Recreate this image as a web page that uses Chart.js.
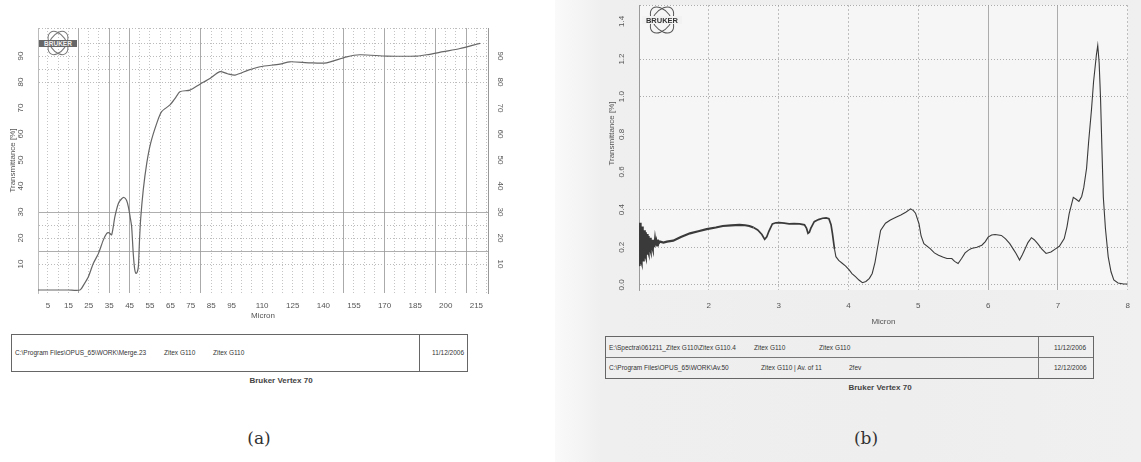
<!DOCTYPE html>
<html>
<head>
<meta charset="utf-8">
<script src="https://cdn.jsdelivr.net/npm/chart.js@4.4.1/dist/chart.umd.min.js"></script>
<style>
  body { margin:0; width:1141px; height:462px; position:relative; overflow:hidden; background:#fff; font-family:"Liberation Sans", Arial, sans-serif; }
  .abs { position:absolute; }
  .box { position:absolute; border:1px solid #666; color:#333; font-size:6.5px; }
  .box span { position:absolute; white-space:nowrap; }
  .cap { position:absolute; font-size:8px; font-weight:bold; color:#444; white-space:nowrap; transform:translateX(-50%); }
  .lbl { position:absolute; font-family:"DejaVu Serif", "Liberation Serif", serif; font-size:17px; color:#333; transform:translateX(-50%); }
</style>
</head>
<body>
<div class="abs" style="left:555px;top:0;width:586px;height:462px;background:linear-gradient(90deg,#fafafa,#efefef 8%,#eeeeee 60%,#f0f0f0)"></div>

<div class="abs" style="left:0;top:0;width:530px;height:330px"><canvas id="chartA"></canvas></div>
<div class="abs" style="left:590px;top:0;width:551px;height:330px"><canvas id="chartB"></canvas></div>

<svg class="abs" style="left:38px;top:29px" width="40" height="28" viewBox="0 0 40 28">
  <ellipse cx="20" cy="14" rx="8" ry="13" transform="rotate(35 20 14)" fill="none" stroke="#777" stroke-width="1"/>
  <ellipse cx="20" cy="14" rx="8" ry="13" transform="rotate(-35 20 14)" fill="none" stroke="#777" stroke-width="1"/>
  <rect x="1" y="11" width="38" height="7" fill="#666"/>
  <text x="20" y="17" font-size="6.5" font-weight="bold" fill="#eee" text-anchor="middle" font-family="Liberation Sans, Arial">BRUKER</text>
</svg>
<svg class="abs" style="left:641px;top:4px" width="42" height="32" viewBox="0 0 42 32">
  <ellipse cx="21" cy="16" rx="9" ry="15" transform="rotate(38 21 16)" fill="none" stroke="#555" stroke-width="1"/>
  <ellipse cx="21" cy="16" rx="9" ry="15" transform="rotate(-38 21 16)" fill="none" stroke="#555" stroke-width="1"/>
  <rect x="1" y="12" width="40" height="8" fill="#f2f2f2"/>
  <text x="21" y="19" font-size="7.5" font-weight="bold" fill="#333" text-anchor="middle" font-family="Liberation Sans, Arial">BRUKER</text>
</svg>

<div class="box" style="left:11px;top:334px;width:455px;height:36px">
  <span style="left:3px;top:14px">C:\Program Files\OPUS_65\WORK\Merge.23</span>
  <span style="left:152px;top:14px">Zitex G110</span>
  <span style="left:201px;top:14px">Zitex G110</span>
  <div class="abs" style="left:407px;top:0;width:1px;height:36px;background:#666"></div>
  <span style="left:420px;top:14px">11/12/2006</span>
</div>
<div class="cap" style="left:281px;top:376px">Bruker Vertex 70</div>
<div class="lbl" style="left:259px;top:428px">(a)</div>

<div class="box" style="left:605px;top:336px;width:487px;height:41px">
  <span style="left:3px;top:7px">E:\Spectra\061211_Zitex G110\Zitex G110.4</span>
  <span style="left:148px;top:7px">Zitex G110</span>
  <span style="left:213px;top:7px">Zitex G110</span>
  <span style="left:3px;top:27px">C:\Program Files\OPUS_65\WORK\Av.50</span>
  <span style="left:155px;top:27px">Zitex G110 | Av. of 11</span>
  <span style="left:243px;top:27px">2fev</span>
  <div class="abs" style="left:0;top:20px;width:487px;height:1px;background:#777"></div>
  <div class="abs" style="left:432px;top:0;width:1px;height:41px;background:#777"></div>
  <span style="left:448px;top:7px">11/12/2006</span>
  <span style="left:448px;top:27px">12/12/2006</span>
</div>
<div class="cap" style="left:880px;top:383px">Bruker Vertex 70</div>
<div class="lbl" style="left:866px;top:428px">(b)</div>

<script>
// panel (a): far-infrared transmittance, microns vs %
const aMicron = [0.1, 5, 10, 15, 20.7, 22.5, 24.8, 27.2, 29.7, 32.1, 33.8, 35, 36.2, 37.8, 39.5, 41, 42.3, 43.5, 44.4, 45.3, 46, 46.8, 47.5, 48.1, 48.7, 49.3, 49.8, 50.4, 51.7, 53.4, 55.3, 58.3, 60.7, 64.8, 67.3, 69.7, 74.6, 79.5, 84.4, 89.3, 93, 96.7, 103.2, 109, 118.7, 123.6, 133.4, 141.6, 151.4, 157.9, 171, 185.7, 190.6, 198.8, 207, 213.5, 216.8];
const aTrans  = [0, 0, 0, 0, 0, 2, 5.1, 10.2, 14, 19.2, 21.8, 22, 21.2, 28.2, 33.3, 35, 35.6, 34.5, 32, 28, 24.4, 14, 8, 6.4, 6.8, 9, 18, 27, 38.5, 48.7, 56.4, 64.1, 68.6, 71.2, 73.7, 76.3, 76.9, 79.2, 81.4, 84, 83.2, 82.7, 84.6, 85.9, 86.9, 87.8, 87.4, 87.4, 89.7, 90.5, 90, 90, 90.5, 91.7, 92.9, 94.2, 94.9];
const aXLabels = [5, 15, 25, 35, 45, 55, 65, 75, 85, 95, 110, 125, 140, 155, 170, 185, 200, 215];
const aYLabels = [10, 20, 30, 40, 50, 60, 70, 80, 90];
const aYGrid = [10, 15, 20, 25, 30, 80, 85, 90, 95, 100.8];

// panel (b): mid-infrared transmittance, microns vs %
const bMicron = [1.00, 1.005, 1.01, 1.015, 1.02, 1.025, 1.03, 1.035, 1.04, 1.045, 1.05, 1.055, 1.06, 1.065, 1.07, 1.075, 1.08, 1.085, 1.09, 1.095, 1.10, 1.105, 1.11, 1.115, 1.12, 1.125, 1.13, 1.135, 1.14, 1.145, 1.15, 1.155, 1.16, 1.165, 1.17, 1.175, 1.18, 1.185, 1.19, 1.195, 1.20, 1.21, 1.22, 1.23, 1.24, 1.25, 1.26, 1.27, 1.28, 1.30,
  1.35, 1.40, 1.49, 1.6, 1.73, 1.85, 1.97, 2.1, 2.2, 2.32, 2.44, 2.52, 2.58, 2.64, 2.70, 2.76, 2.80, 2.83, 2.86, 2.91, 2.96, 3.01, 3.08, 3.15, 3.22, 3.30, 3.37, 3.40, 3.42, 3.44, 3.46, 3.51, 3.57, 3.63, 3.68, 3.72, 3.75, 3.77, 3.80, 3.82, 3.86, 3.91, 3.96, 4.01, 4.05, 4.10, 4.15, 4.20, 4.25, 4.30, 4.34, 4.38, 4.41, 4.46, 4.53, 4.60, 4.68, 4.75, 4.82, 4.89, 4.93, 4.96, 5.01, 5.04, 5.08, 5.17, 5.23, 5.29, 5.35, 5.41, 5.48, 5.52, 5.57, 5.62, 5.67, 5.72, 5.76, 5.84, 5.91, 5.96, 6.0, 6.05, 6.1, 6.19, 6.25, 6.31, 6.36, 6.4, 6.45, 6.49, 6.52, 6.57, 6.62, 6.66, 6.71, 6.77, 6.83, 6.9, 6.96, 7.02, 7.09, 7.13, 7.16, 7.22, 7.26, 7.3, 7.34, 7.37, 7.41, 7.44, 7.48, 7.51, 7.55, 7.57, 7.59, 7.61, 7.63, 7.65, 7.68, 7.72, 7.76, 7.8, 7.86, 7.94, 8.0];
const bTrans = [0.12, 0.31, 0.10, 0.33, 0.11, 0.32, 0.13, 0.30, 0.12, 0.31, 0.14, 0.30, 0.13, 0.29, 0.15, 0.29, 0.14, 0.28, 0.16, 0.28, 0.15, 0.27, 0.17, 0.27, 0.16, 0.26, 0.18, 0.26, 0.17, 0.25, 0.18, 0.25, 0.19, 0.25, 0.18, 0.24, 0.19, 0.24, 0.20, 0.24, 0.19, 0.24, 0.20, 0.24, 0.21, 0.23, 0.21, 0.24, 0.22, 0.23,
  0.225, 0.23, 0.235, 0.255, 0.274, 0.285, 0.296, 0.305, 0.313, 0.316, 0.319, 0.317, 0.313, 0.305, 0.292, 0.268, 0.242, 0.255, 0.285, 0.324, 0.33, 0.331, 0.328, 0.324, 0.326, 0.324, 0.319, 0.300, 0.274, 0.28, 0.30, 0.336, 0.347, 0.354, 0.356, 0.352, 0.32, 0.274, 0.19, 0.150, 0.13, 0.115, 0.10, 0.08, 0.06, 0.044, 0.026, 0.012, 0.018, 0.035, 0.061, 0.12, 0.184, 0.289, 0.328, 0.345, 0.36, 0.372, 0.386, 0.404, 0.395, 0.381, 0.325, 0.26, 0.219, 0.193, 0.17, 0.158, 0.148, 0.14, 0.14, 0.125, 0.114, 0.14, 0.17, 0.185, 0.193, 0.2, 0.211, 0.23, 0.254, 0.265, 0.268, 0.263, 0.245, 0.219, 0.19, 0.167, 0.132, 0.16, 0.184, 0.225, 0.251, 0.24, 0.219, 0.19, 0.167, 0.175, 0.19, 0.205, 0.246, 0.31, 0.377, 0.465, 0.455, 0.444, 0.47, 0.518, 0.62, 0.763, 0.93, 1.079, 1.22, 1.272, 1.18, 0.991, 0.72, 0.465, 0.3, 0.149, 0.07, 0.026, 0.01, 0.005, 0.005];
const bXLabels = [2, 3, 4, 5, 6, 7, 8];
const bYLabels = [0.0, 0.2, 0.4, 0.6, 0.8, 1.0, 1.2, 1.4];
const bYGrid = [0.0, 0.2, 0.4, 1.0, 1.2, 1.487];

const tickFont = { family: "Liberation Sans, Arial, sans-serif", size: 8 };

// y tick labels on these spectra are printed sideways
const sideLabels = {
  id: "sideLabels",
  afterDraw(chart, args, opts) {
    const ctx = chart.ctx, area = chart.chartArea, scale = chart.scales.y;
    ctx.save();
    ctx.font = "8px Liberation Sans, Arial, sans-serif";
    ctx.fillStyle = "#555";
    ctx.textAlign = "center";
    ctx.textBaseline = "middle";
    opts.labels.forEach(v => {
      const y = scale.getPixelForValue(v);
      const txt = v.toFixed(opts.decimals);
      ctx.save();
      ctx.translate(area.left - opts.gap, y);
      ctx.rotate(-Math.PI / 2);
      ctx.fillText(txt, 0, 0);
      ctx.restore();
      if (opts.right) {
        ctx.save();
        ctx.translate(area.right + opts.right, y);
        ctx.rotate(Math.PI / 2);
        ctx.fillText(txt, 0, 0);
        ctx.restore();
      }
    });
    if (opts.title) {
      ctx.save();
      ctx.translate(area.left - opts.titleGap, (area.top + area.bottom) / 2 - opts.titleShift);
      ctx.rotate(-Math.PI / 2);
      ctx.fillText(opts.title, 0, 0);
      ctx.restore();
    }
    ctx.restore();
  }
};

const areaFill = {
  id: "areaFill",
  beforeDraw(chart, args, opts) {
    if (!opts.color) return;
    const a = chart.chartArea;
    chart.ctx.save();
    chart.ctx.fillStyle = opts.color;
    chart.ctx.fillRect(a.left, a.top, a.right - a.left, a.bottom - a.top);
    chart.ctx.restore();
  }
};

function everyStep(min, max, step) {
  const out = [];
  for (let v = min; v <= max + 1e-9; v += step) out.push({ value: +v.toFixed(3) });
  return out;
}

const aSolidX = [20, 35, 45, 80, 150, 170, 195, 210];

new Chart(document.getElementById("chartA"), {
  type: "line",
  data: {
    datasets: [{
      data: aMicron.map((x, i) => ({ x, y: aTrans[i] })),
      borderColor: "#666",
      borderWidth: 1.2,
      pointRadius: 0,
      tension: 0.25
    }]
  },
  options: {
    responsive: true,
    maintainAspectRatio: false,
    animation: false,
    layout: { padding: { top: 28, left: 0, right: 0, bottom: 0 } },
    plugins: {
      legend: { display: false },
      tooltip: { enabled: false },
      sideLabels: { labels: aYLabels, decimals: 0, gap: 17, right: 12 }
    },
    scales: {
      x: {
        type: "linear", min: 0.1, max: 220.7,
        afterBuildTicks: s => { s.ticks = everyStep(5, 220, 5); },
        afterFit: s => { s.height = 37; },
        grid: {
          drawTicks: false,
          color: c => aSolidX.includes(c.tick && c.tick.value) ? "#aaa" : "#b5b5b5",
          lineWidth: c => aSolidX.includes(c.tick && c.tick.value) ? 1 : 0.8
        },
        border: { display: false, dash: c => aSolidX.includes(c.tick && c.tick.value) ? [] : [1, 2] },
        ticks: {
          autoSkip: false, maxRotation: 0, padding: 8, color: "#555", font: tickFont,
          callback: v => aXLabels.includes(v) ? String(v) : ""
        },
        title: { display: true, text: "Micron", color: "#555", font: tickFont, padding: { top: 0, bottom: 9 } }
      },
      y: {
        min: -1.15, max: 100.8,
        afterBuildTicks: s => { s.ticks = aYGrid.map(v => ({ value: v })); },
        afterFit: s => { s.width = 38; },
        grid: {
          drawTicks: false,
          color: c => [30, 15].includes(c.tick && c.tick.value) ? "#999" : "#aaa",
          lineWidth: 0.8
        },
        border: { display: true, color: "#bbb", dash: c => [30, 15].includes(c.tick && c.tick.value) ? [] : [1, 2] },
        ticks: { display: false },
        title: { display: true, text: "Transmittance [%]", color: "#555", font: tickFont, padding: { top: 8, bottom: 0 } }
      },
      yr: {
        position: "right", min: -1.15, max: 100.8,
        afterFit: s => { s.width = 42; },
        grid: { drawOnChartArea: false, drawTicks: false },
        border: { display: true, color: "#999" },
        ticks: { display: false }
      }
    }
  },
  plugins: [sideLabels]
});

const bSolidX = [6, 7];

new Chart(document.getElementById("chartB"), {
  type: "line",
  data: {
    datasets: [{
      data: bMicron.map((x, i) => ({ x, y: bTrans[i] })),
      borderColor: "#3a3a3a",
      borderWidth: 1.1,
      pointRadius: 0,
      tension: 0,
      segment: {
        // the detector noise makes the short-wave part print thicker
        borderWidth: c => c.p0.parsed.x < 2.6 ? 2.2 : (c.p0.parsed.x < 3.8 ? 1.7 : 1.1)
      }
    }]
  },
  options: {
    responsive: true,
    maintainAspectRatio: false,
    animation: false,
    layout: { padding: { top: 5, left: 0, right: 12, bottom: 0 } },
    plugins: {
      legend: { display: false },
      tooltip: { enabled: false },
      areaFill: { color: "#f6f6f6" },
      sideLabels: { labels: bYLabels, decimals: 1, gap: 17, right: 0, title: "Transmittance [%]", titleGap: 27, titleShift: 14 }
    },
    scales: {
      x: {
        type: "linear", min: 1, max: 8,
        afterBuildTicks: s => { s.ticks = everyStep(1, 8, 1); },
        afterFit: s => { s.height = 40; },
        grid: {
          drawTicks: false,
          color: c => bSolidX.includes(c.tick && c.tick.value) ? "#999" : "#b0b0b0",
          lineWidth: 0.8
        },
        border: { display: false, dash: c => bSolidX.includes(c.tick && c.tick.value) ? [] : [2, 2] },
        ticks: {
          autoSkip: false, maxRotation: 0, padding: 11, color: "#555", font: tickFont,
          callback: v => bXLabels.includes(v) ? String(v) : ""
        },
        title: { display: true, text: "Micron", color: "#555", font: tickFont, padding: { top: 0, bottom: 3 } }
      },
      y: {
        min: -0.027, max: 1.487,
        afterBuildTicks: s => { s.ticks = bYGrid.map(v => ({ value: v })); },
        afterFit: s => { s.width = 49; },
        grid: { drawTicks: false, color: "#999", lineWidth: 0.8 },
        border: { display: true, color: "#999", dash: [1, 2] },
        ticks: { display: false },
        title: { display: false }
      }
    }
  },
  plugins: [areaFill, sideLabels]
});
</script>
</body>
</html>
